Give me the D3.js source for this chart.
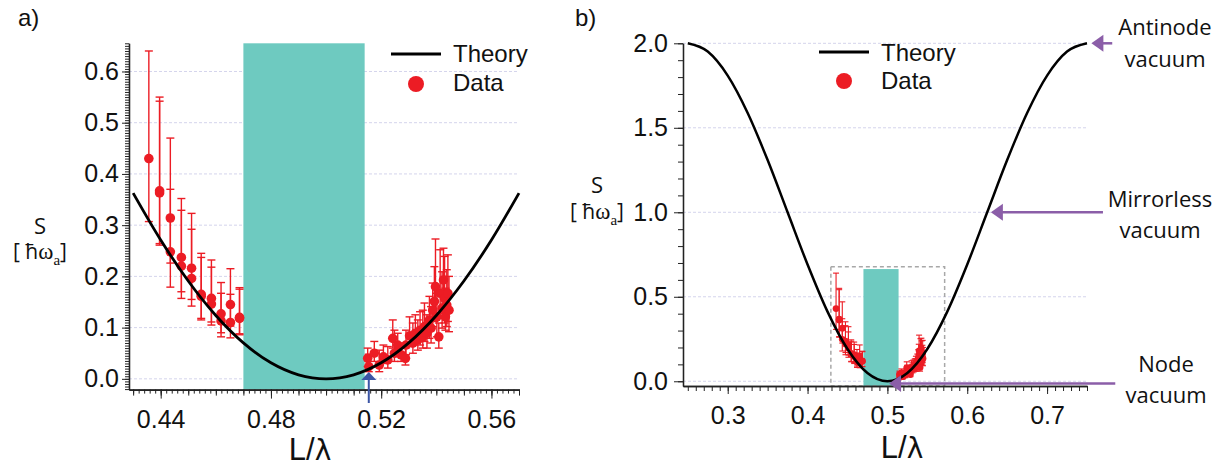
<!DOCTYPE html>
<html><head><meta charset="utf-8">
<script src="https://cdn.jsdelivr.net/npm/d3@7"></script>
<style>body{margin:0;background:#fff}svg{display:block}</style>
</head><body><svg id="c" width="1227" height="467"></svg>
<script>
// ---------- data ----------
const theoryA_L = [0.43,0.44,0.45,0.46,0.47,0.48,0.49,0.50,0.51,0.52,0.53,0.54,0.55,0.56,0.57];
const theoryA_S = [0.3626,0.2710,0.1910,0.1237,0.0702,0.0314,0.0079,0,0.0079,0.0314,0.0702,0.1237,0.1910,0.2710,0.3626];
const theoryB_L = [0.25,0.275,0.3,0.325,0.35,0.375,0.4,0.425,0.45,0.475,0.5,0.525,0.55,0.575,0.6,0.625,0.65,0.675,0.7,0.725,0.75];
const theoryB_S = [2.0,1.9511,1.8090,1.5878,1.3090,1.0,0.6910,0.4122,0.1910,0.0489,0,0.0489,0.1910,0.4122,0.6910,1.0,1.3090,1.5878,1.8090,1.9511,2.0];

const dataL  = [0.4357,0.4396,0.4396,0.4435,0.4435,0.4475,0.4475,0.4512,0.4512,0.4547,0.4547,0.4584,0.4584,0.4619,0.4619,0.4653,0.4653,0.4686,0.4686,
  0.5151,0.5155,0.5175,0.5193,0.5208,0.5224,0.5242,0.5248,0.5260,0.5272,0.5288,0.5290,0.5303,0.5315,0.5324,0.5333,0.5341,0.5351,0.5357,0.5366,0.5375,0.5381,0.5387,0.5393,0.5397,0.5402,0.5409,0.5414,0.5421,0.5426,0.5430,0.5433,0.5438,0.5442,0.5446];
const dataS  = [0.430,0.367,0.363,0.314,0.248,0.237,0.220,0.216,0.196,0.165,0.161,0.157,0.146,0.127,0.113,0.145,0.110,0.120,0.118,
  0.040,0.024,0.050,0.027,0.043,0.037,0.079,0.050,0.066,0.047,0.040,0.066,0.084,0.070,0.089,0.076,0.095,0.082,0.102,0.089,0.115,0.099,0.134,0.151,0.180,0.121,0.082,0.167,0.138,0.193,0.157,0.121,0.144,0.167,0.134];
const dataLo = [0.307,0.264,0.261,0.226,0.179,0.170,0.157,0.155,0.142,0.118,0.115,0.111,0.105,0.090,0.082,0.103,0.080,0.088,0.086,
  0.024,0.014,0.034,0.014,0.030,0.021,0.060,0.034,0.043,0.034,0.027,0.047,0.063,0.050,0.070,0.056,0.066,0.060,0.073,0.060,0.079,0.070,0.102,0.112,0.128,0.082,0.060,0.118,0.099,0.128,0.109,0.095,0.102,0.112,0.092];
const dataHi = [0.640,0.550,0.542,0.470,0.370,0.352,0.329,0.323,0.292,0.245,0.237,0.232,0.218,0.188,0.167,0.215,0.165,0.178,0.175,
  0.060,0.048,0.073,0.056,0.066,0.063,0.115,0.095,0.089,0.070,0.060,0.095,0.121,0.109,0.125,0.115,0.131,0.134,0.148,0.125,0.161,0.141,0.187,0.219,0.273,0.167,0.109,0.252,0.209,0.255,0.239,0.177,0.213,0.242,0.200];

const ticksAx = [0.44,0.48,0.52,0.56];
const ticksAy = [0.0,0.1,0.2,0.3,0.4,0.5,0.6];
const ticksBx = [0.3,0.4,0.5,0.6,0.7];
const ticksBy = [0.0,0.5,1.0,1.5,2.0];
const bandL = [0.47, 0.514];
const boxL = [0.4292, 0.5717];
const boxS = [-0.028, 0.678];
const markerL = 0.5155;
const annoText = [["Antinode","vacuum"],["Mirrorless","vacuum"],["Node","vacuum"]];
const annoTip  = [[0.7555,2.0],[0.6296,1.0],[0.5021,-0.013]];
const annoTail = [[0.7816,2.0],[0.7700,1.0],[0.7854,-0.013]];

// ---------- styles ----------
const RED = "#ec1c24", TEAL = "#6ecac0", PURPLE = "#8b5ea8", BLUE = "#3b55a5";
const GRID = "#d4d4ec";
const svg = d3.select("#c");
const tickFont = "'Liberation Sans', Arial, sans-serif";
const annFont = "'Open Sans', 'Noto Sans', sans-serif";

function zip(a,b){ return a.map((v,i)=>[v,b[i]]); }
const pts = dataL.map((l,i)=>({L:l,S:dataS[i],lo:dataLo[i],hi:dataHi[i]}));

function styleAxis(g, fs){
  g.selectAll("path.domain").attr("stroke","#222").attr("stroke-width",1.3);
  g.selectAll(".tick line").attr("stroke","#222").attr("stroke-width",1);
  g.selectAll(".tick text").attr("font-family",tickFont).attr("font-size",fs).attr("fill","#111");
}

// ================= Panel a =================
const xa = d3.scaleLinear().domain([0.4285,0.57]).range([129,519]);
const ya = d3.scaleLinear().domain([-0.021,0.655]).range([389.6,43.3]);
const pa = svg.append("g");

pa.append("g").selectAll("line").data(ticksAy).join("line")
  .attr("x1",xa.range()[0]).attr("x2",xa.range()[1])
  .attr("y1",d=>ya(d)).attr("y2",d=>ya(d))
  .attr("stroke",GRID).attr("stroke-dasharray","3,2").attr("stroke-width",1);

pa.append("rect").attr("x",xa(bandL[0])).attr("width",xa(bandL[1])-xa(bandL[0]))
  .attr("y",ya.range()[1]).attr("height",ya.range()[0]-ya.range()[1])
  .attr("fill",TEAL);

function drawData(g, x, y, r, cap, sw){
  const eb = g.append("g").attr("stroke",RED).attr("stroke-width",sw).attr("fill","none");
  eb.selectAll("line.v").data(pts).join("line").attr("class","v")
    .attr("x1",d=>x(d.L)).attr("x2",d=>x(d.L)).attr("y1",d=>y(d.lo)).attr("y2",d=>y(d.hi));
  eb.selectAll("line.t").data(pts).join("line").attr("class","t")
    .attr("x1",d=>x(d.L)-cap).attr("x2",d=>x(d.L)+cap).attr("y1",d=>y(d.hi)).attr("y2",d=>y(d.hi));
  eb.selectAll("line.b").data(pts).join("line").attr("class","b")
    .attr("x1",d=>x(d.L)-cap).attr("x2",d=>x(d.L)+cap).attr("y1",d=>y(d.lo)).attr("y2",d=>y(d.lo));
  g.append("g").selectAll("circle").data(pts).join("circle")
    .attr("cx",d=>x(d.L)).attr("cy",d=>y(d.S)).attr("r",r).attr("fill",RED);
}
drawData(pa, xa, ya, 4.8, 4, 1.4);

pa.append("path").datum(zip(theoryA_L,theoryA_S))
  .attr("d",d3.line().x(d=>xa(d[0])).y(d=>ya(d[1])).curve(d3.curveMonotoneX))
  .attr("fill","none").attr("stroke","#000").attr("stroke-width",2.8);

// axes a
const axAminor = pa.append("g").attr("transform",`translate(0,${ya.range()[0]})`)
  .call(d3.axisBottom(xa).tickValues(d3.range(0.43,0.5701,0.002)).tickSize(4).tickFormat("").tickSizeOuter(0));
const axAmid = pa.append("g").attr("transform",`translate(0,${ya.range()[0]})`)
  .call(d3.axisBottom(xa).tickValues(d3.range(0.43,0.5701,0.01)).tickSize(6).tickFormat("").tickSizeOuter(0));
const axA = pa.append("g").attr("transform",`translate(0,${ya.range()[0]})`)
  .call(d3.axisBottom(xa).tickValues(ticksAx).tickSize(9).tickPadding(12).tickFormat(d3.format(".2f")).tickSizeOuter(0));
[axAminor,axAmid,axA].forEach(g=>styleAxis(g,25));
const ayAminor = pa.append("g").attr("transform",`translate(${xa.range()[0]},0)`)
  .call(d3.axisLeft(ya).tickValues(d3.range(-0.02,0.6551,0.005)).tickSize(4).tickFormat("").tickSizeOuter(0));
const ayA = pa.append("g").attr("transform",`translate(${xa.range()[0]},0)`)
  .call(d3.axisLeft(ya).tickValues(ticksAy).tickSize(7).tickPadding(3).tickFormat(d3.format(".1f")).tickSizeOuter(0));
[ayAminor,ayA].forEach(g=>styleAxis(g,25));

// blue arrow
pa.append("line").attr("x1",xa(markerL)).attr("x2",xa(markerL)).attr("y1",403).attr("y2",378)
  .attr("stroke",BLUE).attr("stroke-width",2);
pa.append("path").attr("d",`M${xa(markerL)-7.5},380 L${xa(markerL)+7.5},380 L${xa(markerL)},372 Z`).attr("fill",BLUE);

// legend
function legend(g, x0, yLine, yDot, yT1, yT2){
  g.append("line").attr("x1",x0).attr("x2",x0+50).attr("y1",yLine).attr("y2",yLine).attr("stroke","#000").attr("stroke-width",3);
  g.append("circle").attr("cx",x0+25).attr("cy",yDot).attr("r",8).attr("fill",RED);
  g.append("text").attr("x",x0+62).attr("y",yT1).text("Theory").attr("font-family",tickFont).attr("font-size",24).attr("fill","#111");
  g.append("text").attr("x",x0+62).attr("y",yT2).text("Data").attr("font-family",tickFont).attr("font-size",24).attr("fill","#111");
}
legend(pa, 391, 54, 84, 62, 91);

// ================= Panel b =================
const xb = d3.scaleLinear().domain([0.244,0.75]).range([683,1087]);
const yb = d3.scaleLinear().domain([-0.028,2.0]).range([386,43.3]);
const pb = svg.append("g");

pb.append("g").selectAll("line").data(ticksBy).join("line")
  .attr("x1",xb.range()[0]).attr("x2",xb.range()[1])
  .attr("y1",d=>yb(d)).attr("y2",d=>yb(d))
  .attr("stroke",GRID).attr("stroke-dasharray","3,2").attr("stroke-width",1);

pb.append("rect").attr("x",xb(bandL[0])).attr("width",xb(bandL[1])-xb(bandL[0]))
  .attr("y",yb(0.664)).attr("height",yb.range()[0]-yb(0.664)).attr("fill",TEAL);

pb.append("rect").attr("x",xb(boxL[0])).attr("width",xb(boxL[1])-xb(boxL[0]))
  .attr("y",yb(boxS[1])).attr("height",yb(boxS[0])-yb(boxS[1]))
  .attr("fill","none").attr("stroke","#a8a8a8").attr("stroke-width",1.5).attr("stroke-dasharray","4,3");

drawData(pb, xb, yb, 3.4, 3, 1.1);

pb.append("path").datum(zip(theoryB_L,theoryB_S))
  .attr("d",d3.line().x(d=>xb(d[0])).y(d=>yb(d[1])).curve(d3.curveMonotoneX))
  .attr("fill","none").attr("stroke","#000").attr("stroke-width",2.5);

const axBminor = pb.append("g").attr("transform",`translate(0,${yb.range()[0]})`)
  .call(d3.axisBottom(xb).tickValues(d3.range(0.25,0.7501,0.01)).tickSize(5).tickFormat("").tickSizeOuter(0));
const axB = pb.append("g").attr("transform",`translate(0,${yb.range()[0]})`)
  .call(d3.axisBottom(xb).tickValues(ticksBx).tickSize(8).tickPadding(12).tickFormat(d3.format(".1f")).tickSizeOuter(0));
[axBminor,axB].forEach(g=>styleAxis(g,25));
const ayBminor = pb.append("g").attr("transform",`translate(${xb.range()[0]},0)`)
  .call(d3.axisLeft(yb).tickValues(d3.range(0,2.001,0.1)).tickSize(5).tickFormat("").tickSizeOuter(0));
const ayB = pb.append("g").attr("transform",`translate(${xb.range()[0]},0)`)
  .call(d3.axisLeft(yb).tickValues(ticksBy).tickSize(9).tickPadding(6).tickFormat(d3.format(".1f")).tickSizeOuter(0));
[ayBminor,ayB].forEach(g=>styleAxis(g,25));

legend(pb, 819, 52, 81, 61, 89);

// annotations
annoText.forEach((lines,i)=>{
  const tx = xb(annoTip[i][0]), ty = yb(annoTip[i][1]);
  const ex = xb(annoTail[i][0]);
  pb.append("line").attr("x1",tx+8).attr("x2",ex).attr("y1",ty).attr("y2",ty).attr("stroke",PURPLE).attr("stroke-width",2.5);
  pb.append("path").attr("d",`M${tx},${ty} L${tx+12},${ty-8.5} L${tx+12},${ty+8.5} Z`).attr("fill",PURPLE);
});
const annoPos = [[1165,35],[1160,206.7],[1166,371.7]];
annoText.forEach((lines,i)=>{
  const t = pb.append("text").attr("text-anchor","middle").attr("font-family",annFont).attr("font-size",22).attr("fill","#111");
  lines.forEach((s,j)=>t.append("tspan").attr("x",annoPos[i][0]).attr("y",annoPos[i][1]+j*31.5).text(s));
});

// ---------- labels ----------
function sLabel(cx, yS, yB){
  svg.append("text").attr("x",cx).attr("y",yS).attr("text-anchor","middle")
    .attr("font-family",annFont).attr("font-size",22).attr("fill","#111").text("S");
  const t = svg.append("text").attr("x",cx).attr("y",yB).attr("text-anchor","middle")
    .attr("font-family",annFont).attr("font-size",21).attr("fill","#111");
  t.append("tspan").text("[ ħ");
  t.append("tspan").attr("font-family","'Liberation Serif','DejaVu Serif',serif").attr("font-size",23).text("ω");
  t.append("tspan").attr("font-family","'Liberation Serif','DejaVu Serif',serif").attr("font-size",15).attr("dy",6).text("a");
  t.append("tspan").attr("dy",-6).text("]");
}
sLabel(40, 234, 259);
sLabel(597, 193, 219);

function xLabel(cx, y){
  const t = svg.append("text").attr("x",cx).attr("y",y).attr("text-anchor","middle")
    .attr("font-family",tickFont).attr("font-size",31).attr("fill","#111");
  t.append("tspan").text("L/");
  t.append("tspan").attr("font-family","'DejaVu Sans',sans-serif").attr("font-size",28).text("λ");
}
xLabel(310, 460);
xLabel(902, 458);

svg.append("text").attr("x",18).attr("y",26).attr("font-family",tickFont).attr("font-size",24).attr("fill","#111").text("a)");
svg.append("text").attr("x",575).attr("y",26).attr("font-family",tickFont).attr("font-size",24).attr("fill","#111").text("b)");
</script></body></html>
